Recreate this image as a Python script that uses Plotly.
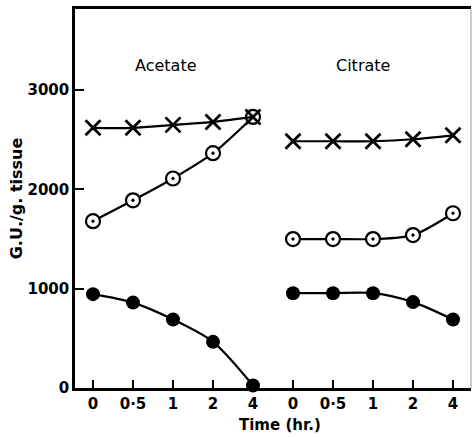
import plotly.graph_objects as go

# x positions (category slots) and tick labels
time_labels = ["0", "0·5", "1", "2", "4"]
acetate_x = [0, 1, 2, 3, 4]
citrate_x = [5, 6, 7, 8, 9]

# G.U./g. tissue values
acetate_cross = [2620, 2620, 2650, 2680, 2730]
acetate_open = [1680, 1890, 2110, 2365, 2730]
acetate_filled = [945, 860, 690, 465, 25]

citrate_cross = [2485, 2485, 2485, 2505, 2545]
citrate_open = [1500, 1500, 1500, 1540, 1760]
citrate_filled = [955, 955, 955, 865, 690]

FONT = "DejaVu Sans"
fig = go.Figure()

def add_series(x, y, kind):
    line = dict(color="black", width=2.2, shape="spline", smoothing=0.8)
    if kind == "filled":
        marker = dict(symbol="circle", size=14, color="black")
    elif kind == "open":
        marker = dict(symbol="circle-dot", size=14, color="white",
                      line=dict(color="black", width=2.2))
    else:
        marker = dict(symbol="x-thin", size=15, color="black",
                      line=dict(color="black", width=2.8))
    fig.add_trace(go.Scatter(x=x, y=y, mode="lines+markers", line=line,
                             marker=marker, showlegend=False, cliponaxis=False))

for xs, f, o, c in [(acetate_x, acetate_filled, acetate_open, acetate_cross),
                    (citrate_x, citrate_filled, citrate_open, citrate_cross)]:
    add_series(xs, f, "filled")
    add_series(xs, o, "open")
    add_series(xs, c, "cross")

fig.update_layout(
    width=472, height=437,
    margin=dict(l=75, r=1, t=9, b=49),
    plot_bgcolor="white", paper_bgcolor="white",
    font=dict(family=FONT, color="black", size=15),
    xaxis=dict(range=[-0.45, 9.45], tickmode="array",
               tickvals=acetate_x + citrate_x, ticktext=time_labels + time_labels,
               ticks="inside", ticklen=8, tickwidth=2, tickcolor="black",
               showline=True, linecolor="black", linewidth=2.5, mirror=True,
               showgrid=False, zeroline=False,
               tickfont=dict(family=FONT, size=15, weight="bold")),
    yaxis=dict(range=[0, 3817], tickvals=[0, 1000, 2000, 3000],
               ticks="inside", ticklen=9, tickwidth=2, tickcolor="black",
               showline=True, linecolor="black", linewidth=2.5,
               showgrid=False, zeroline=False,
               tickfont=dict(family=FONT, size=15, weight="bold"),
               title=dict(text="G.U./g. tissue", standoff=1,
                          font=dict(family=FONT, size=16, weight="bold"))),
    annotations=[
        dict(text="Acetate", x=1.83, y=3250, xref="x", yref="y", showarrow=False,
             font=dict(family=FONT, size=16)),
        dict(text="Citrate", x=6.75, y=3250, xref="x", yref="y", showarrow=False,
             font=dict(family=FONT, size=16)),
        dict(text="Time (hr.)", x=4.68, y=-0.097, xref="x", yref="paper",
             yanchor="middle", showarrow=False,
             font=dict(family=FONT, size=15, weight="bold")),
    ],
    shapes=[dict(type="line", xref="paper", yref="paper", x0=1, x1=1, y0=0, y1=1,
                 line=dict(color="#999", width=1))],
)

fig.write_html("out.html")
